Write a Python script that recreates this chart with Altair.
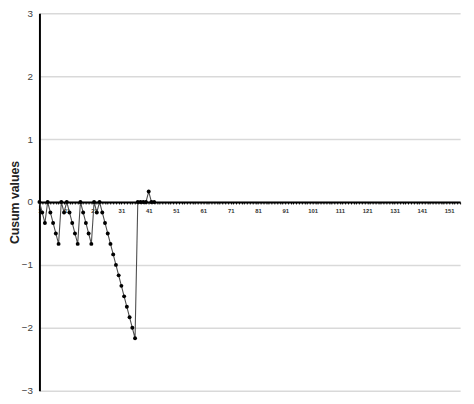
import altair as alt
import pandas as pd

# CUSUM series (observations 1..43)
cusum_index = list(range(1, 44))
cusum_values = [
    0.0, -0.166, -0.333, 0.0, -0.166, -0.333, -0.5, -0.666, 0.0, -0.166,
    0.0, -0.166, -0.333, -0.5, -0.666, 0.0, -0.166, -0.333, -0.5, -0.666,
    0.0, -0.166, 0.0, -0.166, -0.333, -0.5, -0.666, -0.833, -1.0, -1.166,
    -1.333, -1.5, -1.666, -1.833, -2.0, -2.166, 0.0, 0.0, 0.0, 0.0,
    0.166, 0.0, 0.0,
]

# category axis: 155 observations, labels every 10
axis_index = list(range(1, 156))
x_label_values = [1, 11, 21, 31, 41, 51, 61, 71, 81, 91, 101, 111, 121, 131, 141, 151]
y_ticks = [-3, -2, -1, 0, 1, 2, 3]

df = pd.DataFrame({"obs": cusum_index, "cusum": cusum_values})

W, H = 428, 384
font = "Liberation Sans"

x_scale = alt.Scale(domain=[1, 155], nice=False, zero=False)
y_scale = alt.Scale(domain=[-3, 3], nice=False)

label_expr = "indexof([" + ",".join(str(v) for v in x_label_values) + "], datum.value) >= 0 ? datum.label : ''"

x_axis = alt.Axis(
    values=axis_index,
    labelExpr=label_expr,
    format="d",
    orient="bottom",
    offset=-H / 2,
    domain=True,
    domainColor="#000000",
    domainWidth=2,
    ticks=True,
    tickSize=2,
    tickColor="#000000",
    tickWidth=1,
    labelFont=font,
    labelFontSize=6,
    labelFontWeight="bold",
    labelColor="#333333",
    labelPadding=4,
    labelOverlap=False,
    labelFlush=False,
    labelBound=False,
    grid=False,
    title=None,
)

y_axis = alt.Axis(
    values=y_ticks,
    format="d",
    domain=True,
    domainColor="#000000",
    domainWidth=2,
    ticks=False,
    labelFont=font,
    labelFontSize=10,
    labelColor="#404040",
    labelPadding=7,
    grid=True,
    gridColor="#d9d9d9",
    gridWidth=1.5,
    title="Cusum values",
    titleFont=font,
    titleFontSize=12.5,
    titleFontWeight="bold",
    titleColor="#222222",
    titleAngle=270,
    titleBaseline="middle",
    titleAlign="center",
    titleX=-25,
    titleY=H / 2,
)

base = alt.Chart(df).encode(
    x=alt.X("obs:Q", scale=x_scale, axis=x_axis),
    y=alt.Y("cusum:Q", scale=y_scale, axis=y_axis),
)

line = base.mark_line(color="#4d4d4d", strokeWidth=1.1)
points = base.mark_circle(color="#000000", size=16, opacity=1)

chart = (
    alt.layer(line, points)
    .properties(
        width=W,
        height=H,
        padding={"left": 32, "top": 2, "right": 6, "bottom": 2},
        autosize=alt.AutoSizeParams(type="none"),
        background="#ffffff",
    )
    .configure_view(stroke=None)
)

chart.save("out.html", embed_options={"renderer": "svg", "actions": False})
